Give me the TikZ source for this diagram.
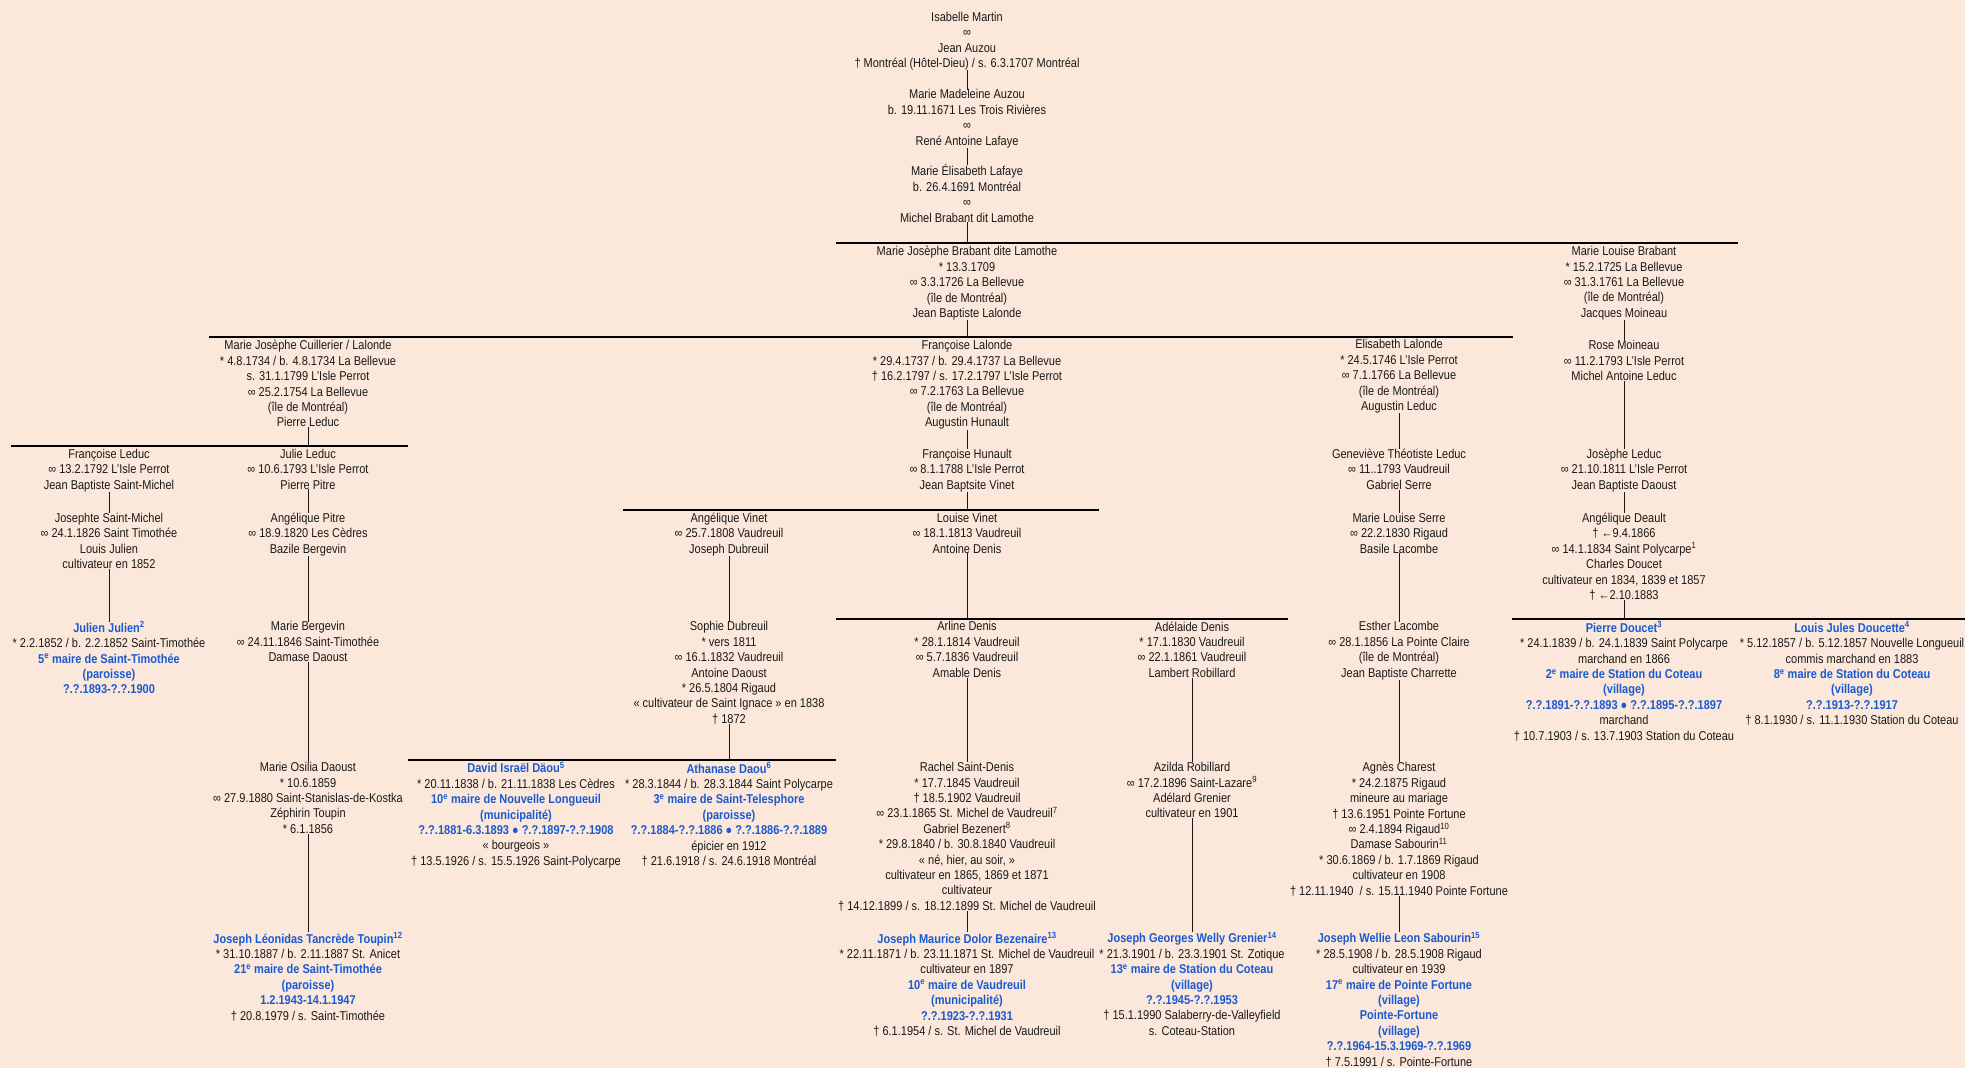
\documentclass[tikz,border=0pt]{standalone}
\usepackage{fontspec}
\setmainfont[FakeStretch=0.86]{Liberation Sans}
\usepackage{xcolor}
\definecolor{peach}{RGB}{252,232,218}
\definecolor{mayorblue}{RGB}{25,90,210}
\definecolor{ink}{RGB}{25,25,25}
\newcommand{\maire}[1]{\textcolor{mayorblue}{\bfseries #1}}
\newcommand{\nb}[1]{\textsuperscript{#1}}

\begin{document}
\begin{tikzpicture}[x=1bp, y=-1bp,
    person/.style={align=center, anchor=north, inner sep=0pt, text=ink,
        font={\fontsize{12.8bp}{15.4bp}\selectfont}},
    link/.style={line width=0.9bp, ink},
    bar/.style={line width=1.8bp, black}]
    \fill[peach] (0,0) rectangle (1965,1068);
    \useasboundingbox (0,0) rectangle (1965,1068);

    % the sideways bars
    \coordinate (bar1w) at (836,243.3);  \coordinate (bar1e) at (1738,243.3);
    \coordinate (bar2w) at (209,336.7);  \coordinate (bar2e) at (1513,336.7);
    \coordinate (bar3w) at (11,446);     \coordinate (bar3e) at (408,446);
    \coordinate (bar4w) at (623,510);    \coordinate (bar4e) at (1099,510);
    \coordinate (bar5w) at (836,618.7);  \coordinate (bar5e) at (1288,618.7);
    \coordinate (bar6w) at (1512,618.7); \coordinate (bar6e) at (1965,618.7);
    \coordinate (bar7w) at (408,760);    \coordinate (bar7e) at (836,760);

    \node[person] (isabelle) at (967,11.8) {Isabelle Martin\\ ∞\\ Jean Auzou\\ † Montréal (Hôtel-Dieu) / s. 6.3.1707 Montréal};
    \node[person] (madeleine) at (967,89.5) {Marie Madeleine Auzou\\ b. 19.11.1671 Les Trois Rivières\\ ∞\\ René Antoine Lafaye};
    \node[person] (mElisabeth) at (967,164.6) {Marie Élisabeth Lafaye\\ b. 26.4.1691 Montréal\\ ∞\\ Michel Brabant dit Lamothe};

    \node[person] (mjBrabant) at (967,246.2) {Marie Josèphe Brabant dite Lamothe\\ * 13.3.1709\\ ∞ 3.3.1726 La Bellevue\\ (île de Montréal)\\ Jean Baptiste Lalonde};
    \node[person] (mlBrabant) at (1624,246.2) {Marie Louise Brabant\\ * 15.2.1725 La Bellevue\\ ∞ 31.3.1761 La Bellevue\\ (île de Montréal)\\ Jacques Moineau};

    \node[person] (mjCuillerier) at (308,340.2) {Marie Josèphe Cuillerier / Lalonde\\ * 4.8.1734 / b. 4.8.1734 La Bellevue\\ s. 31.1.1799 L'Isle Perrot\\ ∞ 25.2.1754 La Bellevue\\ (île de Montréal)\\ Pierre Leduc};
    \node[person] (fLalonde) at (967,340.2) {Françoise Lalonde\\ * 29.4.1737 / b. 29.4.1737 La Bellevue\\ † 16.2.1797 / s. 17.2.1797 L'Isle Perrot\\ ∞ 7.2.1763 La Bellevue\\ (île de Montréal)\\ Augustin Hunault};
    \node[person] (eLalonde) at (1399,337.6) {Élisabeth Lalonde\\ * 24.5.1746 L'Isle Perrot\\ ∞ 7.1.1766 La Bellevue\\ (île de Montréal)\\ Augustin Leduc};
    \node[person] (rMoineau) at (1624,340.2) {Rose Moineau\\ ∞ 11.2.1793 L'Isle Perrot\\ Michel Antoine Leduc};

    \node[person] (fLeduc) at (109,448.8) {Françoise Leduc\\ ∞ 13.2.1792 L'Isle Perrot\\ Jean Baptiste Saint-Michel};
    \node[person] (jLeduc) at (308,448.8) {Julie Leduc\\ ∞ 10.6.1793 L'Isle Perrot\\ Pierre Pitre};
    \node[person] (fHunault) at (967,448.8) {Françoise Hunault\\ ∞ 8.1.1788 L'Isle Perrot\\ Jean Baptsite Vinet};
    \node[person] (gLeduc) at (1399,448.8) {Geneviève Théotiste Leduc\\ ∞ 11..1793 Vaudreuil\\ Gabriel Serre};
    \node[person] (josLeduc) at (1624,448.8) {Josèphe Leduc\\ ∞ 21.10.1811 L'Isle Perrot\\ Jean Baptiste Daoust};

    \node[person] (jSaintMichel) at (109,512.8) {Josephte Saint-Michel\\ ∞ 24.1.1826 Saint Timothée\\ Louis Julien\\ cultivateur en 1852};
    \node[person] (aPitre) at (308,512.8) {Angélique Pitre\\ ∞ 18.9.1820 Les Cèdres\\ Bazile Bergevin};
    \node[person] (aVinet) at (729,512.8) {Angélique Vinet\\ ∞ 25.7.1808 Vaudreuil\\ Joseph Dubreuil};
    \node[person] (lVinet) at (967,512.8) {Louise Vinet\\ ∞ 18.1.1813 Vaudreuil\\ Antoine Denis};
    \node[person] (mlSerre) at (1399,512.8) {Marie Louise Serre\\ ∞ 22.2.1830 Rigaud\\ Basile Lacombe};
    \node[person] (aDeault) at (1624,512.8) {Angélique Deault\\ † ←9.4.1866\\ ∞ 14.1.1834 Saint Polycarpe\nb{1}\\ Charles Doucet\\ cultivateur en 1834, 1839 et 1857\\ † ←2.10.1883};

    \node[person] (jJulien) at (109,621.5) {\maire{Julien Julien\nb{2}}\\ * 2.2.1852 / b. 2.2.1852 Saint-Timothée\\ \maire{5\nb{e} maire de Saint-Timothée}\\ \maire{(paroisse)}\\ \maire{?.?.1893-?.?.1900}};
    \node[person] (mBergevin) at (308,621.5) {Marie Bergevin\\ ∞ 24.11.1846 Saint-Timothée\\ Damase Daoust};
    \node[person] (sDubreuil) at (729,621.5) {Sophie Dubreuil\\ * vers 1811\\ ∞ 16.1.1832 Vaudreuil\\ Antoine Daoust\\ * 26.5.1804 Rigaud\\ « cultivateur de Saint Ignace » en 1838\\ † 1872};
    \node[person] (arDenis) at (967,621.5) {Arline Denis\\ * 28.1.1814 Vaudreuil\\ ∞ 5.7.1836 Vaudreuil\\ Amable Denis};
    \node[person] (adDenis) at (1192,621.5) {Adélaide Denis\\ * 17.1.1830 Vaudreuil\\ ∞ 22.1.1861 Vaudreuil\\ Lambert Robillard};
    \node[person] (eLacombe) at (1399,621.5) {Esther Lacombe\\ ∞ 28.1.1856 La Pointe Claire\\ (île de Montréal)\\ Jean Baptiste Charrette};
    \node[person] (pDoucet) at (1624,621.5) {\maire{Pierre Doucet\nb{3}}\\ * 24.1.1839 / b. 24.1.1839 Saint Polycarpe\\ marchand en 1866\\ \maire{2\nb{e} maire de Station du Coteau}\\ \maire{(village)}\\ \maire{?.?.1891-?.?.1893 ● ?.?.1895-?.?.1897}\\ marchand\\ † 10.7.1903 / s. 13.7.1903 Station du Coteau};
    \node[person] (ljDoucette) at (1852,621.5) {\maire{Louis Jules Doucette\nb{4}}\\ * 5.12.1857 / b. 5.12.1857 Nouvelle Longueuil\\ commis marchand en 1883\\ \maire{8\nb{e} maire de Station du Coteau}\\ \maire{(village)}\\ \maire{?.?.1913-?.?.1917}\\ † 8.1.1930 / s. 11.1.1930 Station du Coteau};

    \node[person] (moDaoust) at (308,762.2) {Marie Osilia Daoust\\ * 10.6.1859\\ ∞ 27.9.1880 Saint-Stanislas-de-Kostka\\ Zéphirin Toupin\\ * 6.1.1856};
    \node[person] (dDaou) at (516,762.2) {\maire{David Israël Däou\nb{5}}\\ * 20.11.1838 / b. 21.11.1838 Les Cèdres\\ \maire{10\nb{e} maire de Nouvelle Longueuil}\\ \maire{(municipalité)}\\ \maire{?.?.1881-6.3.1893 ● ?.?.1897-?.?.1908}\\ « bourgeois »\\ † 13.5.1926 / s. 15.5.1926 Saint-Polycarpe};
    \node[person] (aDaou) at (729,762.2) {\maire{Athanase Daou\nb{6}}\\ * 28.3.1844 / b. 28.3.1844 Saint Polycarpe\\ \maire{3\nb{e} maire de Saint-Telesphore}\\ \maire{(paroisse)}\\ \maire{?.?.1884-?.?.1886 ● ?.?.1886-?.?.1889}\\ épicier en 1912\\ † 21.6.1918 / s. 24.6.1918 Montréal};
    \node[person] (rSaintDenis) at (967,762.2) {Rachel Saint-Denis\\ * 17.7.1845 Vaudreuil\\ † 18.5.1902 Vaudreuil\\ ∞ 23.1.1865 St. Michel de Vaudreuil\nb{7}\\ Gabriel Bezenert\nb{8}\\ * 29.8.1840 / b. 30.8.1840 Vaudreuil\\ « né, hier, au soir, »\\ cultivateur en 1865, 1869 et 1871\\ cultivateur\\ † 14.12.1899 / s. 18.12.1899 St. Michel de Vaudreuil};
    \node[person] (aRobillard) at (1192,762.2) {Azilda Robillard\\ ∞ 17.2.1896 Saint-Lazare\nb{9}\\ Adélard Grenier\\ cultivateur en 1901};
    \node[person] (aCharest) at (1399,762.2) {Agnès Charest\\ * 24.2.1875 Rigaud\\ mineure au mariage\\ † 13.6.1951 Pointe Fortune\\ ∞ 2.4.1894 Rigaud\nb{10}\\ Damase Sabourin\nb{11}\\ * 30.6.1869 / b. 1.7.1869 Rigaud\\ cultivateur en 1908\\ † 12.11.1940~ / s. 15.11.1940 Pointe Fortune};

    \node[person] (jlToupin) at (308,932.2) {\maire{Joseph Léonidas Tancrède Toupin\nb{12}}\\ * 31.10.1887 / b. 2.11.1887 St. Anicet\\ \maire{21\nb{e} maire de Saint-Timothée}\\ \maire{(paroisse)}\\ \maire{1.2.1943-14.1.1947}\\ † 20.8.1979 / s. Saint-Timothée};
    \node[person] (jmBezenaire) at (967,932.2) {\maire{Joseph Maurice Dolor Bezenaire\nb{13}}\\ * 22.11.1871 / b. 23.11.1871 St. Michel de Vaudreuil\\ cultivateur en 1897\\ \maire{10\nb{e} maire de Vaudreuil}\\ \maire{(municipalité)}\\ \maire{?.?.1923-?.?.1931}\\ † 6.1.1954 / s. St. Michel de Vaudreuil};
    \node[person] (jgGrenier) at (1192,932.2) {\maire{Joseph Georges Welly Grenier\nb{14}}\\ * 21.3.1901 / b. 23.3.1901 St. Zotique\\ \maire{13\nb{e} maire de Station du Coteau}\\ \maire{(village)}\\ \maire{?.?.1945-?.?.1953}\\ † 15.1.1990 Salaberry-de-Valleyfield\\ s. Coteau-Station};
    \node[person] (jwSabourin) at (1399,932.2) {\maire{Joseph Wellie Leon Sabourin\nb{15}}\\ * 28.5.1908 / b. 28.5.1908 Rigaud\\ cultivateur en 1939\\ \maire{17\nb{e} maire de Pointe Fortune}\\ \maire{(village)}\\ \maire{Pointe-Fortune}\\ \maire{(village)}\\ \maire{?.?.1964-15.3.1969-?.?.1969}\\ † 7.5.1991 / s. Pointe-Fortune};

    % straight descent, parent to single child
    \draw[link] (isabelle) -- (madeleine);
    \draw[link] (madeleine) -- (mElisabeth);
    \draw[link] (mlBrabant) -- (rMoineau);
    \draw[link] (fLalonde) -- (fHunault);
    \draw[link] (eLalonde) -- (gLeduc);
    \draw[link] (gLeduc) -- (mlSerre);
    \draw[link] (mlSerre) -- (eLacombe);
    \draw[link] (eLacombe) -- (aCharest);
    \draw[link] (aCharest) -- (jwSabourin);
    \draw[link] (rMoineau) -- (josLeduc);
    \draw[link] (josLeduc) -- (aDeault);
    \draw[link] (fLeduc) -- (jSaintMichel);
    \draw[link] (jSaintMichel) -- (jJulien);
    \draw[link] (jLeduc) -- (aPitre);
    \draw[link] (aPitre) -- (mBergevin);
    \draw[link] (mBergevin) -- (moDaoust);
    \draw[link] (moDaoust) -- (jlToupin);
    \draw[link] (aVinet) -- (sDubreuil);
    \draw[link] (arDenis) -- (rSaintDenis);
    \draw[link] (rSaintDenis) -- (jmBezenaire);
    \draw[link] (adDenis) -- (aRobillard);
    \draw[link] (aRobillard) -- (jgGrenier);

    % parents with several children
    \draw[link] (mElisabeth) -- (mElisabeth |- bar1w);
    \draw[bar] (bar1w) -- (bar1e);
    \draw[link] (mjBrabant) -- (mjBrabant |- bar2w);
    \draw[bar] (bar2w) -- (bar2e);
    \draw[link] (mjCuillerier) -- (mjCuillerier |- bar3w);
    \draw[bar] (bar3w) -- (bar3e);
    \draw[link] (fHunault) -- (fHunault |- bar4w);
    \draw[bar] (bar4w) -- (bar4e);
    \draw[link] (lVinet) -- (lVinet |- bar5w);
    \draw[bar] (bar5w) -- (bar5e);
    \draw[link] (aDeault) -- (aDeault |- bar6w);
    \draw[bar] (bar6w) -- (bar6e);
    \draw[link] (sDubreuil) -- (sDubreuil |- bar7w);
    \draw[bar] (bar7w) -- (bar7e);
\end{tikzpicture}
\end{document}
